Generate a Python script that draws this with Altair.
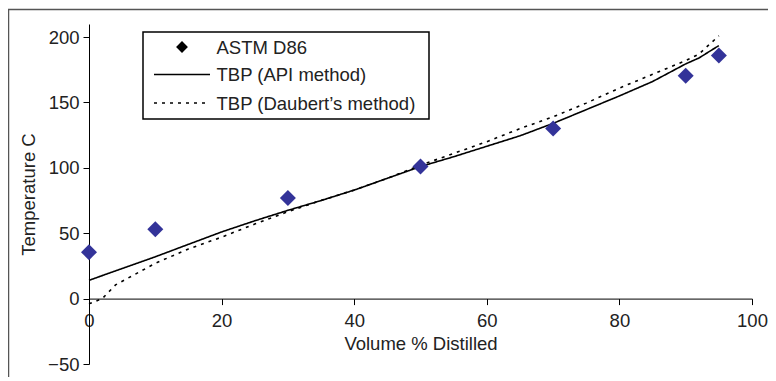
import altair as alt
import pandas as pd

SERIES = ["ASTM D86", "TBP (API method)", "TBP (Daubert’s method)"]

astm_x = [0, 10, 30, 50, 70, 90, 95]
astm_y = [35.5, 53, 77, 101, 130, 170.5, 186]

api_x = [0, 5, 10, 15, 20, 25, 30, 35, 40, 45, 50, 55, 60, 65, 70, 75, 80, 85, 90, 92, 95]
api_y = [14, 23, 32, 41.5, 51, 59.5, 67.5, 75, 83, 92, 101, 108.5, 116.5, 124.5, 134, 144.5, 155, 166, 179.5, 184, 193.5]

dau_x = [0, 2, 4, 10, 15, 20, 25, 30, 35, 40, 45, 50, 55, 60, 65, 70, 75, 80, 85, 90, 92, 95]
dau_y = [-4, 0, 10.5, 27, 38, 47, 57, 66.5, 75, 83, 92, 102, 111, 120, 130, 139, 149.5, 161, 171.5, 182, 187, 201]

x_ticks = [0, 20, 40, 60, 80, 100]
y_ticks = [-50, 0, 50, 100, 150, 200]

FONT = "Liberation Sans"
TEXT = "#222222"
NAVY = "#333399"
DASH = [3, 5]

pts = pd.DataFrame({"x": astm_x, "y": astm_y, "series": SERIES[0]})
lines = pd.concat([
    pd.DataFrame({"x": api_x, "y": api_y, "series": SERIES[1]}),
    pd.DataFrame({"x": dau_x, "y": dau_y, "series": SERIES[2]}),
])
one = pd.DataFrame({"k": [0]})

xs = alt.Scale(domain=[0, 100], nice=False)
ys = alt.Scale(domain=[-50, 210], nice=False)
x_axis = alt.Axis(values=x_ticks, title="Volume % Distilled", offset=-65.4,
                  labelPadding=7, titlePadding=4, labelFlush=False, labelOverlap=False)
y_axis = alt.Axis(values=y_ticks, title="Temperature C", labelPadding=4,
                  titlePadding=9, labelFlush=False, labelOverlap=False)

dash_scale = alt.Scale(domain=SERIES[1:], range=[[1, 0], DASH])

frame = alt.Chart(one).mark_rect(
    fill="transparent", stroke="#555555", strokeWidth=1.5
).encode(x=alt.value(-80.5), y=alt.value(-14.5), x2=alt.value(760), y2=alt.value(420))

line_layer = alt.Chart(lines).mark_line(color="black", strokeWidth=1.6).encode(
    x=alt.X("x:Q", scale=xs, axis=x_axis),
    y=alt.Y("y:Q", scale=ys, axis=y_axis),
    strokeDash=alt.StrokeDash("series:N", scale=dash_scale, legend=None),
    order="x:Q",
)

point_layer = alt.Chart(pts).mark_point(
    shape="diamond", filled=True, color=NAVY, size=256, opacity=1
).encode(x=alt.X("x:Q", scale=xs), y=alt.Y("y:Q", scale=ys))

# ---- legend (decoration) ----
ROW_Y = [23, 50.5, 79]
LX0, LX1, LTX = 65, 121, 127.5

leg_box = alt.Chart(one).mark_rect(
    fill="white", stroke="black", strokeWidth=1.5
).encode(x=alt.value(54), y=alt.value(8), x2=alt.value(340), y2=alt.value(95))

leg_diamond = alt.Chart(one).mark_point(
    shape="diamond", filled=True, color="black", size=140, opacity=1
).encode(x=alt.value((LX0 + LX1) / 2), y=alt.value(ROW_Y[0]))

leg_solid = alt.Chart(one).mark_rule(color="black", strokeWidth=1.5).encode(
    x=alt.value(LX0), x2=alt.value(LX1), y=alt.value(ROW_Y[1]))
leg_dash = alt.Chart(one).mark_rule(color="black", strokeWidth=1.3, strokeDash=DASH).encode(
    x=alt.value(LX0), x2=alt.value(LX1), y=alt.value(ROW_Y[2]))

leg_texts = [
    alt.Chart(one).mark_text(
        align="left", baseline="middle", font=FONT, fontSize=18.5, color=TEXT
    ).encode(x=alt.value(LTX), y=alt.value(ROW_Y[i] + 0.5), text=alt.value(SERIES[i]))
    for i in range(3)
]

chart = alt.layer(
    frame, line_layer, point_layer, leg_box, leg_diamond, leg_solid, leg_dash, *leg_texts
).properties(
    width=663, height=340,
    autosize=alt.AutoSizeParams(type="none"),
    padding={"left": 81, "top": 16, "right": 16, "bottom": 13},
).configure_view(stroke=None).configure_axis(
    grid=False, domainColor="black", tickColor="black", domainWidth=1, tickWidth=1,
    tickSize=6, labelFont=FONT, labelFontSize=18.5, labelColor=TEXT,
    titleFont=FONT, titleFontSize=18.5, titleFontWeight="normal", titleColor=TEXT,
)

chart.save("out.html", embed_options={"renderer": "svg", "actions": False})
